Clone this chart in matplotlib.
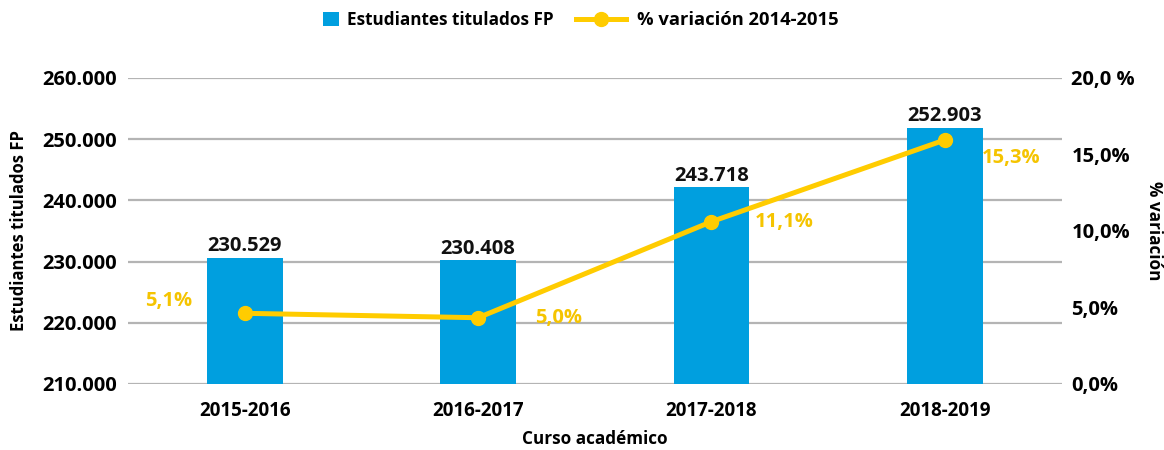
import numpy as np
import matplotlib
matplotlib.use('Agg')
import matplotlib.pyplot as plt
from matplotlib.lines import Line2D
from matplotlib.patches import Patch

plt.rcParams['font.family'] = ['Open Sans', 'DejaVu Sans']
plt.rcParams['font.weight'] = 'bold'

# Datos
cursos = ['2015-2016', '2016-2017', '2017-2018', '2018-2019']
titulados = [230650, 230210, 242170, 251850]
titulados_txt = ['230.529', '230.408', '243.718', '252.903']
variacion = [4.62, 4.33, 10.61, 15.95]
variacion_txt = ['5,1%', '5,0%', '11,1%', '15,3%']

ticks_izq = [210000, 220000, 230000, 240000, 250000, 260000]
ticks_izq_txt = ['210.000', '220.000', '230.000', '240.000', '250.000', '260.000']
ticks_der = [0, 5, 10, 15, 20]
ticks_der_txt = ['0,0%', '5,0%', '10,0%', '15,0%', '20,0 %']

azul = '#009FDF'
amarillo = '#FFCC00'
gris = '#B4B4B4'

fig = plt.figure(figsize=(11.64, 4.5), dpi=100)
ax = fig.add_axes([0.110, 0.1467, 0.802, 0.68])

x = np.arange(len(cursos))
ax.bar(x, [t - 210000 for t in titulados], bottom=210000, width=0.325,
       color=azul, zorder=3)
ax.set_ylim(210000, 260000)
ax.set_xlim(-0.5, 3.5)
ax.set_yticks(ticks_izq)
ax.set_yticklabels(ticks_izq_txt)
ax.set_xticks(x)
ax.set_xticklabels(cursos)
ax.grid(axis='y', color=gris, linewidth=1.6, zorder=0)
ax.tick_params(axis='y', length=0, pad=8, labelsize=14.5)
ax.tick_params(axis='x', length=0, pad=12, labelsize=13.5)
for s in ax.spines.values():
    s.set_visible(False)
ax.set_ylabel('Estudiantes titulados FP', fontsize=12, fontweight='bold', labelpad=10)
ax.set_xlabel('Curso académico', fontsize=12.3, fontweight='bold', labelpad=7)

# Etiquetas de barras
for xi, t, txt in zip(x, titulados, titulados_txt):
    ax.annotate(txt, (xi, t), xytext=(0, 1), textcoords='offset points',
                ha='center', va='bottom', fontsize=14.5, fontweight='bold',
                color='#111111', zorder=5)

# Eje derecho
ax2 = ax.twinx()
ax2.plot(x, variacion, color=amarillo, linewidth=3.6, marker='o',
         markersize=10, zorder=4)
ax2.set_ylim(0, 20)
ax2.set_yticks(ticks_der)
ax2.set_yticklabels(ticks_der_txt)
ax2.tick_params(axis='y', length=0, pad=7, labelsize=14.5)
for s in ax2.spines.values():
    s.set_visible(False)
ax2.set_ylabel('% variación', fontsize=12.3, fontweight='bold',
               rotation=-90, labelpad=20)

offsets = [(-55, 9), (58, 0), (52, 0), (48, -13)]
for xi, v, txt, off in zip(x, variacion, variacion_txt, offsets):
    ax2.annotate(txt, (xi, v), xytext=off, textcoords='offset points',
                 ha='center', va='center', fontsize=14.5, fontweight='bold',
                 color='#F5C400')

# Leyenda (dos partes para que el cuadrado y la línea tengan distinto tamaño)
h1 = [Patch(facecolor=azul, edgecolor='none', label='Estudiantes titulados FP')]
h2 = [Line2D([0], [0], color=amarillo, linewidth=3.6, marker='o', markersize=10,
             label='% variación 2014-2015')]
fig.legend(handles=h1, loc='center left', bbox_to_anchor=(323 / 1164, 1 - 20 / 450),
           frameon=False, fontsize=12.3, handlelength=0.95, handleheight=0.95,
           handletextpad=0.45, borderpad=0, borderaxespad=0)
fig.legend(handles=h2, loc='center left', bbox_to_anchor=(576 / 1164, 1 - 20 / 450),
           frameon=False, fontsize=13.2, handlelength=2.7,
           handletextpad=0.65, borderpad=0, borderaxespad=0)

fig.savefig('out.png', dpi=100)
